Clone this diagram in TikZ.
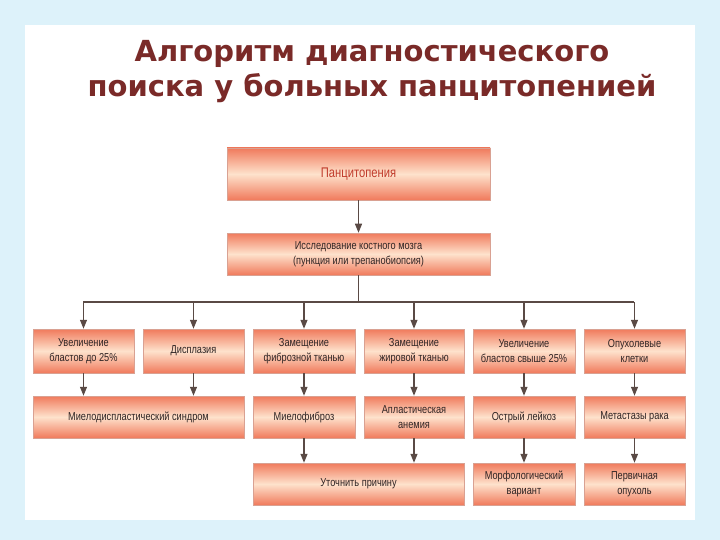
\documentclass[tikz,border=0pt]{standalone}
\usepackage{fontspec}
\setmainfont{Liberation Sans}
\newfontfamily\titlefont{DejaVu Sans}
\usetikzlibrary{arrows.meta}
\definecolor{bgblue}{HTML}{DDF2FA}
\definecolor{boxdark}{HTML}{F07A5C}
\definecolor{boxlight}{HTML}{FEE2CC}
\definecolor{titlecol}{HTML}{7A2A28}
\definecolor{txt}{HTML}{2E2424}
\definecolor{linecol}{HTML}{5A4A45}
\begin{document}
\begin{tikzpicture}[x=1pt,y=-1pt,
  bx/.style={draw=boxdark!80!black!60,line width=0.5pt,top color=boxdark,bottom color=boxdark,middle color=boxlight,
    align=center,font=\fontsize{11.5}{14.5}\selectfont\addfontfeature{FakeStretch=0.8},text=txt,inner sep=1pt},
  arr/.style={draw=linecol,line width=1.2pt,-{Triangle[length=9pt,width=7pt]}},
  ln/.style={draw=linecol,line width=1.2pt}]
\fill[bgblue] (0,0) rectangle (720,540);
\fill[white] (25,25) rectangle (695,520);
\useasboundingbox (0,0) rectangle (720,540);
\node[font=\titlefont\bfseries\fontsize{29}{35}\selectfont\addfontfeature{FakeStretch=1.0},text=titlecol,align=center] (title) at (372,72)
  {Алгоритм диагностического\\поиска у больных панцитопенией};
\newcommand{\bxat}[5]{\node[bx,minimum width=#3-#2,minimum height=#5-#4] at ({(#2+#3)/2},{(#4+#5)/2})}
\bxat{p}{227}{490}{148}{200} (p) {\textcolor[HTML]{C03A2A}{\fontsize{14}{16}\selectfont Панцитопения}};
\bxat{i}{227}{490}{233}{275} (i) {Исследование костного мозга\\(пункция или трепанобиопсия)};
\bxat{}{33}{134}{329}{373} (a1) {Увеличение\\бластов до 25\%};
\bxat{}{143}{244}{329}{373} (a2) {Дисплазия};
\bxat{}{253}{355}{329}{373} (a3) {Замещение\\фиброзной тканью};
\bxat{}{364}{464}{329}{373} (a4) {Замещение\\жировой тканью};
\bxat{}{473}{575}{329}{373} (a5) {Увеличение\\бластов свыше 25\%};
\bxat{}{584}{685}{329}{373} (a6) {Опухолевые\\клетки};
\bxat{}{33}{244}{396}{438} (b1) {Миелодиспластический синдром};
\bxat{}{253}{355}{396}{438} (b3) {Миелофиброз};
\bxat{}{364}{464}{396}{438} (b4) {Апластическая\\анемия};
\bxat{}{473}{575}{396}{438} (b5) {Острый лейкоз};
\bxat{}{584}{685}{396}{438} (b6) {Метастазы рака};
\bxat{}{253}{464}{463}{505} (c1) {Уточнить причину};
\bxat{}{473}{575}{463}{505} (c5) {Морфологический\\вариант};
\bxat{}{584}{685}{463}{505} (c6) {Первичная\\опухоль};
\draw[arr] (p) -- (i);
\coordinate (hl) at (83,302); \coordinate (hr) at (634,302);
\draw[ln] (i.south) -- (i.south |- hl);
\draw[ln] (hl) -- (hr);
\foreach \n in {a1,a2,a3,a4,a5,a6} \draw[arr] (\n.north |- hl) -- (\n.north);
\draw[arr] (a1.south) -- (a1.south |- b1.north);
\draw[arr] (a2.south) -- (a2.south |- b1.north);
\draw[arr] (a3) -- (b3); \draw[arr] (a4) -- (b4); \draw[arr] (a5) -- (b5); \draw[arr] (a6) -- (b6);
\draw[arr] (b3.south) -- (b3.south |- c1.north);
\draw[arr] (b4.south) -- (b4.south |- c1.north);
\draw[arr] (b5) -- (c5); \draw[arr] (b6) -- (c6);
\end{tikzpicture}
\end{document}
